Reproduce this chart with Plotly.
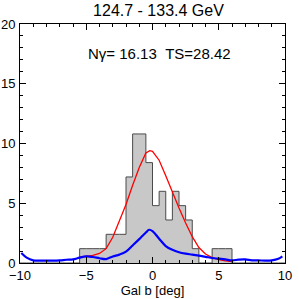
import plotly.graph_objects as go

# histogram: left bin edges (0.5 deg) and values
bin_left = [-10.0, -9.5, -9.0, -8.5, -8.0, -7.5, -7.0, -6.5, -6.0, -5.5, -5.0, -4.5, -4.0,
            -3.5, -3.0, -2.5, -2.0, -1.5, -1.0, -0.5, 0.0, 0.5, 1.0, 1.5, 2.0, 2.5, 3.0,
            3.5, 4.0, 4.5, 5.0, 5.5, 6.0, 6.5, 7.0, 7.5, 8.0, 8.5, 9.0, 9.5]
counts = [0, 0, 0, 0, 0, 0, 0, 0, 0, 1.2, 1.2, 1.2, 1.2,
          2.4, 2.4, 2.4, 7.2, 10.8, 10.8, 8.4, 4.8, 6.0, 3.6, 6.0, 4.8, 3.6, 1.2,
          0, 0, 1.2, 1.2, 1.2, 0, 0, 0, 0, 0, 0, 0, 0]
last_edge = 10.0

# model (red)
model_x = [-5.5, -5.0, -4.5, -4.0, -3.5, -3.0, -2.5, -2.0, -1.5, -1.0, -0.5, -0.2, 0.0,
           0.5, 1.0, 1.5, 2.0, 2.5, 3.0, 3.5, 4.0, 4.5, 5.0, 5.5, 6.0]
model_y = [0.5, 0.56, 0.64, 0.8, 1.2, 2.15, 3.5, 4.9, 6.5, 8.0, 9.2, 9.4, 9.35,
           8.6, 7.3, 5.9, 4.6, 3.35, 2.2, 1.3, 0.75, 0.45, 0.28, 0.18, 0.12]

# background (blue)
bkg_x = [-9.9, -9.5, -9.0, -8.5, -8.0, -7.5, -7.0, -6.5, -6.0, -5.5, -5.0, -4.5, -4.0,
         -3.5, -3.0, -2.5, -2.0, -1.5, -1.0, -0.5, -0.25, 0.0, 0.5, 1.0, 1.5, 2.0,
         2.5, 3.0, 3.5, 4.0, 4.5, 5.0, 5.5, 6.0, 6.5, 7.0, 7.5, 8.0, 8.5, 9.0, 9.5, 9.8]
bkg_y = [0.83, 0.45, 0.22, 0.2, 0.2, 0.2, 0.22, 0.27, 0.3, 0.45, 0.55, 0.5, 0.4,
         0.33, 0.55, 0.7, 0.95, 1.47, 2.0, 2.55, 2.78, 2.67, 2.03, 1.42, 1.1, 0.9,
         0.78, 0.7, 0.61, 0.52, 0.42, 0.36, 0.3, 0.22, 0.28, 0.3, 0.22, 0.22, 0.2, 0.22, 0.35, 0.55]

title_text = "124.7 - 133.4 GeV"
info_text = "Nγ= 16.13  TS=28.42"

fig = go.Figure()
fig.add_trace(go.Scatter(x=bin_left + [last_edge], y=counts + [counts[-1]],
                         mode="lines", line=dict(shape="hv", color="#4a4a4a", width=1),
                         fill="tozeroy", fillcolor="#c8c8c8", hoverinfo="skip"))
fig.add_trace(go.Scatter(x=model_x, y=model_y, mode="lines",
                         line=dict(color="#ff0000", width=1.3)))
fig.add_trace(go.Scatter(x=bkg_x, y=bkg_y, mode="lines",
                         line=dict(color="#0000ff", width=2.2, shape="spline")))

font = "Liberation Sans, Arial, sans-serif"
axis_common = dict(showgrid=False, zeroline=False, showline=True, linecolor="black",
                   linewidth=1, mirror="allticks", ticks="inside", ticklen=6,
                   tickcolor="black", automargin=False,
                   tickfont=dict(family=font, size=13, color="black"))
fig.update_xaxes(range=[-10, 10], tickvals=[-10, -5, 0, 5, 10],
                 minor=dict(dtick=1, ticks="inside", ticklen=3, tickcolor="black"),
                 title=dict(text="Gal b [deg]", font=dict(family=font, size=13, color="black"),
                            standoff=0),
                 **axis_common)
fig.update_yaxes(range=[0, 20], tickvals=[0, 5, 10, 15, 20], ticklabelstandoff=1,
                 minor=dict(dtick=1, ticks="inside", ticklen=3, tickcolor="black"),
                 **axis_common)

fig.update_layout(width=299, height=299, showlegend=False,
                  plot_bgcolor="white", paper_bgcolor="white",
                  margin=dict(l=20, r=14, t=24, b=36),
                  title=dict(text=title_text, x=0.53, xanchor="center", y=0.965, yanchor="middle",
                             font=dict(family=font, size=16, color="black")),
                  annotations=[dict(text=info_text, x=0.5, y=17.5, xref="x", yref="y",
                                    showarrow=False, xanchor="center",
                                    font=dict(family=font, size=15, color="black"))])
fig.write_html("out.html", config={"displayModeBar": False},
               post_script="document.body.style.margin='0';document.body.style.padding='0';")
